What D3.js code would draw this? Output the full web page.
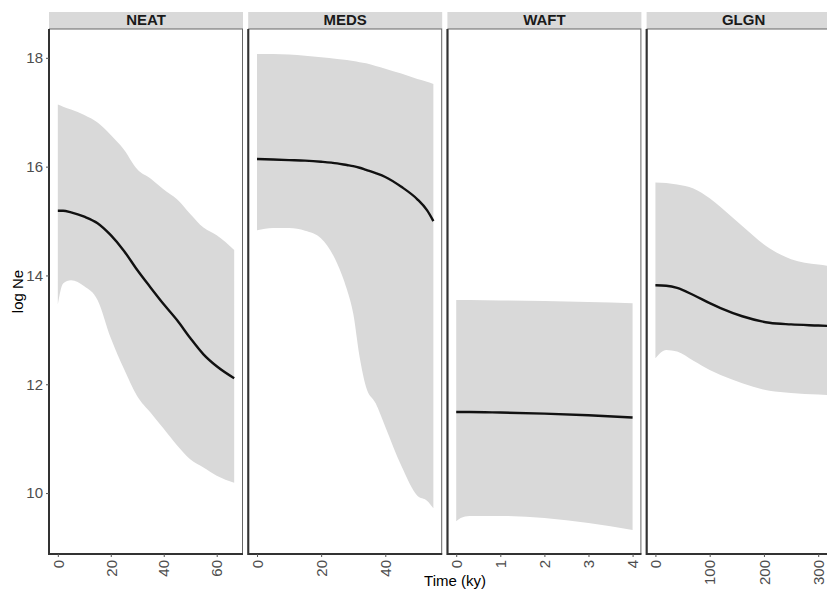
<!DOCTYPE html>
<html>
<head>
<meta charset="utf-8">
<script src="https://cdn.jsdelivr.net/npm/d3@7"></script>
<style>
  body { margin: 0; background: #fff; }
  text { font-family: "Liberation Sans", Arial, sans-serif; }
</style>
</head>
<body>
<script>
// panel names
var panels = ["NEAT", "MEDS", "WAFT", "GLGN"];

// NEAT
var neatTime   = [0, 2, 5, 10, 15, 20, 25, 30, 35, 40, 45, 50, 55, 60, 66.6];
var neatMedian = [15.19, 15.19, 15.16, 15.08, 14.96, 14.74, 14.45, 14.10, 13.78, 13.47, 13.18, 12.85, 12.55, 12.33, 12.11];
var neatLower  = [13.46, 13.85, 13.91, 13.80, 13.55, 12.85, 12.28, 11.78, 11.48, 11.18, 10.88, 10.62, 10.47, 10.32, 10.19];
var neatUpper  = [17.14, 17.10, 17.05, 16.95, 16.81, 16.58, 16.31, 15.95, 15.78, 15.58, 15.40, 15.13, 14.88, 14.74, 14.47];

// MEDS
var medsTime   = [0, 5, 10, 15, 20, 25, 28, 30, 32, 34, 37, 40, 45, 50, 53, 55];
var medsMedian = [16.14, 16.13, 16.12, 16.11, 16.09, 16.06, 16.03, 16.01, 15.98, 15.94, 15.88, 15.81, 15.63, 15.40, 15.20, 15.00];
var medsLower  = [14.83, 14.87, 14.87, 14.82, 14.68, 14.22, 13.75, 13.30, 12.50, 11.95, 11.65, 11.22, 10.50, 9.95, 9.86, 9.72];
var medsUpper  = [18.07, 18.07, 18.06, 18.04, 18.01, 17.98, 17.96, 17.94, 17.92, 17.90, 17.85, 17.80, 17.71, 17.61, 17.56, 17.52];

// WAFT
var waftTime   = [0, 0.1, 0.3, 1, 2, 3, 4];
var waftMedian = [11.49, 11.49, 11.49, 11.48, 11.46, 11.43, 11.39];
var waftLower  = [9.48, 9.54, 9.58, 9.58, 9.54, 9.45, 9.32];
var waftUpper  = [13.55, 13.55, 13.55, 13.54, 13.53, 13.51, 13.49];

// GLGN
var glgnTime   = [0, 20, 40, 70, 100, 120, 160, 210, 250, 300, 325];
var glgnMedian = [13.82, 13.81, 13.77, 13.64, 13.49, 13.40, 13.25, 13.13, 13.10, 13.08, 13.07];
var glgnLower  = [12.48, 12.63, 12.60, 12.43, 12.26, 12.17, 12.02, 11.88, 11.84, 11.81, 11.80];
var glgnUpper  = [15.71, 15.70, 15.67, 15.60, 15.42, 15.26, 14.91, 14.50, 14.30, 14.20, 14.17];

// tick labels
var yTicks = [10, 12, 14, 16, 18];
var xTicks = [[0, 20, 40, 60], [0, 20, 40], [0, 1, 2, 3, 4], [0, 100, 200, 300]];

var width = 827, height = 592;
var plotTop = 29, plotBottom = 554, stripTop = 12;
var panelLeft = 49, panelW = 194, panelGap = 5.2;

var series = [
  {time: neatTime, median: neatMedian, lower: neatLower, upper: neatUpper},
  {time: medsTime, median: medsMedian, lower: medsLower, upper: medsUpper},
  {time: waftTime, median: waftMedian, lower: waftLower, upper: waftUpper},
  {time: glgnTime, median: glgnMedian, lower: glgnLower, upper: glgnUpper}
];

var svg = d3.select("body").append("svg")
    .attr("width", width)
    .attr("height", height);

var y = d3.scaleLinear()
    .domain([8.88, 18.53])
    .range([plotBottom, plotTop]);

panels.forEach(function(name, i) {
    var s = series[i];
    var x0 = panelLeft + i * (panelW + panelGap);
    var maxT = d3.max(s.time);
    var x = d3.scaleLinear()
        .domain([-0.05 * maxT, 1.05 * maxT])
        .range([x0, x0 + panelW]);

    var rows = s.time.map(function(t, j) {
        return {t: t, m: s.median[j], lo: s.lower[j], hi: s.upper[j]};
    });

    var g = svg.append("g");

    // strip
    g.append("rect")
        .attr("x", x0).attr("y", stripTop)
        .attr("width", panelW).attr("height", plotTop - stripTop)
        .attr("fill", "#d9d9d9");
    g.append("text")
        .attr("x", x0 + panelW / 2).attr("y", plotTop - 4)
        .attr("text-anchor", "middle")
        .style("font-size", "15px")
        .style("font-weight", "bold")
        .attr("fill", "#1a1a1a")
        .text(name);

    // ribbon
    var area = d3.area()
        .x(function(d) { return x(d.t); })
        .y0(function(d) { return y(d.lo); })
        .y1(function(d) { return y(d.hi); })
        .curve(d3.curveMonotoneX);
    g.append("path")
        .datum(rows)
        .attr("fill", "#d9d9d9")
        .attr("d", area);

    // median line
    var line = d3.line()
        .x(function(d) { return x(d.t); })
        .y(function(d) { return y(d.m); })
        .curve(d3.curveMonotoneX);
    g.append("path")
        .datum(rows)
        .attr("fill", "none")
        .attr("stroke", "#111")
        .attr("stroke-width", 2.4)
        .attr("d", line);

    // panel border
    g.append("rect")
        .attr("x", x0 + 0.5).attr("y", plotTop)
        .attr("width", panelW - 1).attr("height", plotBottom - plotTop)
        .attr("fill", "none")
        .attr("stroke", "#666")
        .attr("stroke-width", 1);

    // x axis
    var xAxis = d3.axisBottom(x)
        .tickValues(xTicks[i])
        .tickSize(3)
        .tickPadding(3)
        .tickFormat(d3.format("d"));
    var ax = g.append("g")
        .attr("transform", "translate(0," + plotBottom + ")")
        .call(xAxis);
    ax.select(".domain")
        .attr("d", "M" + x0 + ",0H" + (x0 + panelW))
        .attr("stroke", "#333")
        .attr("stroke-width", 2);
    ax.selectAll(".tick line").attr("stroke", "#555");
    ax.selectAll(".tick text")
        .attr("transform", "rotate(-90)")
        .attr("x", -6).attr("y", 0).attr("dy", "0.35em")
        .attr("text-anchor", "end")
        .attr("fill", "#4d4d4d")
        .style("font-size", "15px");

    // left axis line on each panel
    g.append("line")
        .attr("x1", x0).attr("x2", x0)
        .attr("y1", plotTop).attr("y2", plotBottom + 1)
        .attr("stroke", "#333")
        .attr("stroke-width", 2);

    if (i === 0) {
        var yAxis = d3.axisLeft(y)
            .tickValues(yTicks)
            .tickSize(3)
            .tickPadding(3);
        var ay = g.append("g")
            .attr("transform", "translate(" + x0 + ",0)")
            .call(yAxis);
        ay.select(".domain").remove();
        ay.selectAll(".tick line").attr("stroke", "#555");
        ay.selectAll(".tick text")
            .attr("fill", "#4d4d4d")
            .style("font-size", "15px");
    }
});

// axis titles
svg.append("text")
    .attr("x", 455).attr("y", 586)
    .attr("text-anchor", "middle")
    .style("font-size", "15px")
    .attr("fill", "#000")
    .text("Time (ky)");

svg.append("text")
    .attr("transform", "translate(23," + ((plotTop + plotBottom) / 2) + ") rotate(-90)")
    .attr("text-anchor", "middle")
    .style("font-size", "15px")
    .attr("fill", "#000")
    .text("log Ne");
</script>
</body>
</html>
